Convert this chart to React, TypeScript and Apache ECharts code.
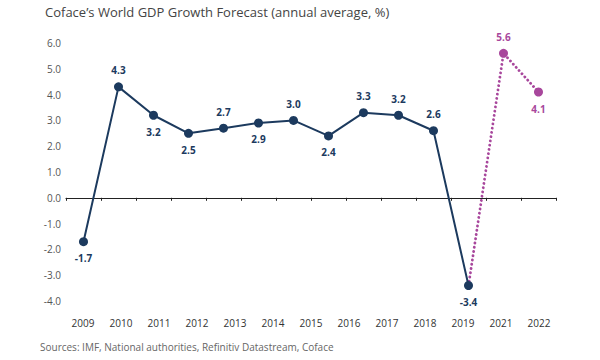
import React, { useEffect, useRef } from "react";
import * as echarts from "echarts";

const slotYears = ["2009","2010","2011","2012","2013","2014","2015","2016","2017","2018","2019","2020","2021","2022"];
const axisLabels = ["2009","2010","2011","2012","2013","2014","2015","2016","2017","2018","2019","2021","2022"];
const actualValues: (number | null)[] = [-1.7, 4.3, 3.2, 2.5, 2.7, 2.9, 3.0, 2.4, 3.3, 3.2, 2.6, -3.4, null, null];
const forecastValues: (number | null)[] = [null, null, null, null, null, null, null, null, null, null, null, -3.4, 5.6, 4.1];
const labelSide = ["bottom","top","bottom","bottom","top","bottom","top","bottom","top","top","top","bottom","top","bottom"];

const title = "Coface\u2019s World GDP Growth Forecast (annual average, %)";
const source = "Sources: IMF, National authorities, Refinitiv Datastream, Coface";

const NAVY = "#1c3a5e";
const MAGENTA = "#a8479c";
const FONT = "'Open Sans', sans-serif";

export default function App() {
  const ref = useRef<HTMLDivElement>(null);
  useEffect(() => {
    if (!ref.current) return;
    const chart = echarts.init(ref.current, undefined, { renderer: "svg" });
    const lbl = (color: string, side: string) => ({
      show: true,
      position: side,
      distance: 7,
      color,
      fontSize: 10,
      fontWeight: "bold",
      fontFamily: FONT,
      formatter: (p: any) => Number(p.value).toFixed(1),
    });
    chart.setOption({
      animation: false,
      backgroundColor: "#ffffff",
      title: {
        text: title,
        left: 40,
        top: 0,
        textStyle: { fontSize: 13, fontWeight: "normal", color: "#444", fontFamily: FONT },
      },
      graphic: [
        {
          type: "text",
          left: 40,
          top: 342,
          style: { text: source, fontSize: 10, fill: "#666", fontFamily: FONT },
        },
      ],
      grid: [
        { left: 66, right: 44, top: 43, bottom: 59 },
        { left: 83, right: 61, top: 43, bottom: 59 },
      ],
      xAxis: [
        {
          type: "category",
          gridIndex: 0,
          data: slotYears,
          boundaryGap: true,
          axisLine: { onZero: true, lineStyle: { color: "#222", width: 1.2 } },
          axisTick: { show: true, length: 3, lineStyle: { color: "#222" } },
          axisLabel: { show: false },
        },
        {
          type: "category",
          gridIndex: 1,
          data: axisLabels,
          boundaryGap: false,
          axisLine: { show: false },
          axisTick: { show: false },
          axisLabel: { show: true, margin: 17, fontSize: 10, color: "#333", fontFamily: FONT, interval: 0 },
        },
      ],
      yAxis: [
        {
          type: "value",
          gridIndex: 0,
          min: -4,
          max: 6,
          interval: 1,
          splitLine: { show: false },
          axisLine: { show: false },
          axisTick: { show: false },
          axisLabel: {
            fontSize: 10,
            color: "#555",
            fontFamily: FONT,
            margin: 5,
            formatter: (v: number) => v.toFixed(1),
          },
        },
        { type: "value", gridIndex: 1, min: -4, max: 6, show: false },
      ],
      series: [
        {
          type: "line",
          xAxisIndex: 0,
          yAxisIndex: 0,
          data: forecastValues.map((v, i) =>
            v === null
              ? null
              : i === 11
              ? { value: v, symbol: "none", label: { show: false } }
              : { value: v, label: lbl(MAGENTA, labelSide[i]) }
          ),
          connectNulls: false,
          symbol: "circle",
          symbolSize: 9,
          itemStyle: { color: MAGENTA },
          lineStyle: { color: MAGENTA, width: 2.8, type: [0.1, 4.2], cap: "round" },
          z: 2,
        },
        {
          type: "line",
          xAxisIndex: 0,
          yAxisIndex: 0,
          data: actualValues.map((v, i) =>
            v === null ? null : { value: v, label: lbl(NAVY, labelSide[i]) }
          ),
          symbol: "circle",
          symbolSize: 9,
          itemStyle: { color: NAVY },
          lineStyle: { color: NAVY, width: 2 },
          z: 3,
        },
      ],
    });
    return () => chart.dispose();
  }, []);
  return <div ref={ref} style={{ width: 600, height: 360, position: "absolute", left: 0, top: 0 }} />;
}
